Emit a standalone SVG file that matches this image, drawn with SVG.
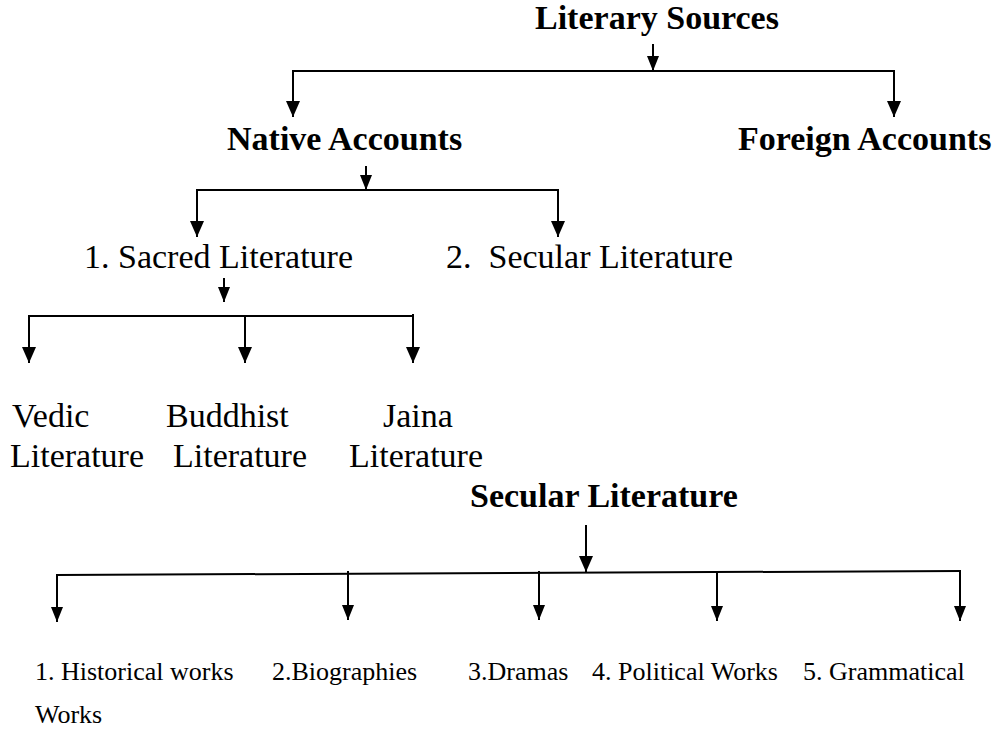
<svg xmlns="http://www.w3.org/2000/svg" width="1002" height="736" viewBox="0 0 1002 736">
<style>
.t{font-family:"Liberation Serif","Times New Roman",serif;fill:#000}
.b{font-weight:bold;font-size:34px}
.r{font-size:34px}
.s{font-size:26px}
.c line,.c polyline{stroke:#000;stroke-width:2;fill:none}
</style>
<defs>
<marker id="ah" viewBox="0 0 16 14" refX="16" refY="7" markerWidth="16" markerHeight="14" markerUnits="userSpaceOnUse" orient="auto">
<path d="M0,0 L16,7 L0,14 z" fill="#000"/>
</marker>
<marker id="as" viewBox="0 0 15 12" refX="15" refY="6" markerWidth="15" markerHeight="12" markerUnits="userSpaceOnUse" orient="auto">
<path d="M0,0 L15,6 L0,12 z" fill="#000"/>
</marker>
</defs>
<rect width="1002" height="736" fill="#fff"/>
<g class="c" id="connectors">
<line x1="653" y1="44" x2="653" y2="71" marker-end="url(#as)"/>
<line x1="293" y1="71" x2="894" y2="71"/>
<line x1="293" y1="70" x2="293" y2="117" marker-end="url(#ah)"/>
<line x1="894" y1="70" x2="894" y2="117" marker-end="url(#ah)"/>
<line x1="366" y1="166" x2="366" y2="190" marker-end="url(#as)"/>
<line x1="197" y1="190" x2="558" y2="190"/>
<line x1="197" y1="189" x2="197" y2="237" marker-end="url(#ah)"/>
<line x1="558" y1="189" x2="558" y2="237" marker-end="url(#ah)"/>
<line x1="224" y1="278" x2="224" y2="302" marker-end="url(#as)"/>
<line x1="29" y1="316" x2="413" y2="316"/>
<line x1="29" y1="315" x2="29" y2="363" marker-end="url(#ah)"/>
<line x1="245" y1="315" x2="245" y2="363" marker-end="url(#ah)"/>
<line x1="413" y1="314" x2="413" y2="363" marker-end="url(#ah)"/>
<line x1="586" y1="525" x2="586" y2="572" marker-end="url(#ah)"/>
<line x1="57" y1="575" x2="960" y2="571"/>
<line x1="57" y1="574" x2="57" y2="622" marker-end="url(#as)"/>
<line x1="348" y1="571" x2="348" y2="620" marker-end="url(#as)"/>
<line x1="539" y1="571" x2="539" y2="620" marker-end="url(#as)"/>
<line x1="717" y1="572" x2="717" y2="621" marker-end="url(#as)"/>
<line x1="960" y1="570" x2="960" y2="621" marker-end="url(#as)"/>
</g>
<g id="literary-sources"><text class="t b" x="535" y="29">Literary Sources</text></g>
<g id="native-accounts"><text class="t b" x="227" y="150">Native Accounts</text></g>
<g id="foreign-accounts"><text class="t b" x="738" y="150">Foreign Accounts</text></g>
<g id="sacred-literature"><text class="t r" x="84" y="268">1. Sacred Literature</text></g>
<g id="secular-literature-item"><text class="t r" x="446" y="268" xml:space="preserve">2.  Secular Literature</text></g>
<g id="vedic"><text class="t r" x="12" y="427">Vedic</text><text class="t r" x="10" y="467">Literature</text></g>
<g id="buddhist"><text class="t r" x="166" y="427">Buddhist</text><text class="t r" x="173" y="467">Literature</text></g>
<g id="jaina"><text class="t r" x="383" y="427">Jaina</text><text class="t r" x="349" y="467">Literature</text></g>
<g id="secular-literature"><text class="t b" x="470" y="507">Secular Literature</text></g>
<g id="historical"><text class="t s" x="35" y="680">1. Historical works</text><text class="t s" x="35" y="723">Works</text></g>
<g id="biographies"><text class="t s" x="272" y="680">2.Biographies</text></g>
<g id="dramas"><text class="t s" x="468" y="680">3.Dramas</text></g>
<g id="political"><text class="t s" x="592" y="680">4. Political Works</text></g>
<g id="grammatical"><text class="t s" x="803" y="680">5. Grammatical</text></g>
</svg>
